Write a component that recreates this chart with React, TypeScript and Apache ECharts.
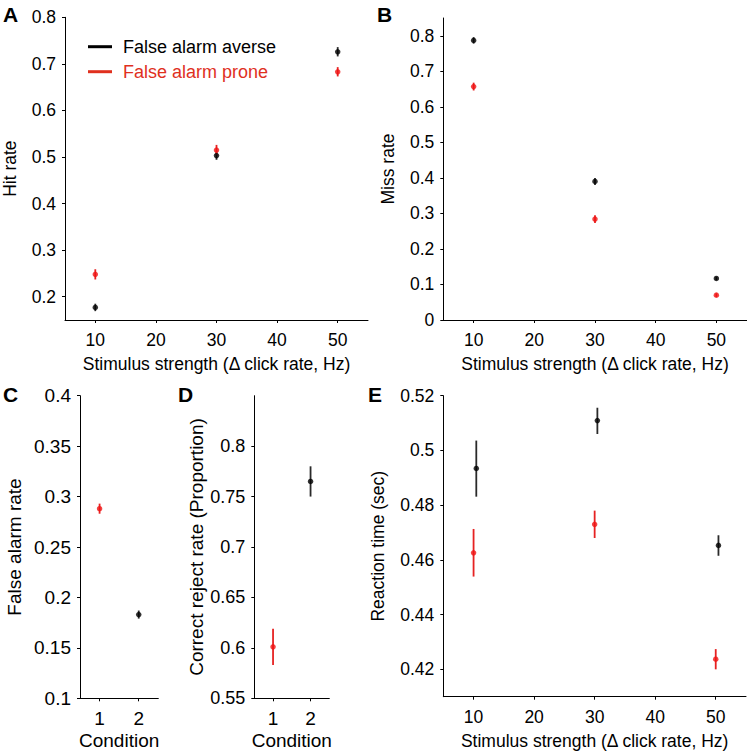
import React, { useEffect, useRef } from 'react';
import * as echarts from 'echarts';

// ---------- data ----------
const stimulus = [10, 30, 50];
const stimulusTicks = [10, 20, 30, 40, 50];
const conditionTicks = [1, 2];

// Panel A: hit rate
const hitTicks = [0.2, 0.3, 0.4, 0.5, 0.6, 0.7, 0.8];
const hitAverse = [0.177, 0.503, 0.726];
const hitAverseErr = [0.008, 0.009, 0.01];
const hitProne = [0.248, 0.515, 0.683];
const hitProneErr = [0.011, 0.011, 0.01];

// Panel B: miss rate
const missTicks = [0, 0.1, 0.2, 0.3, 0.4, 0.5, 0.6, 0.7, 0.8];
const missAverse = [0.787, 0.39, 0.117];
const missAverseErr = [0.009, 0.01, 0.005];
const missProne = [0.657, 0.284, 0.07];
const missProneErr = [0.011, 0.011, 0.005];

// Panel C: false alarm rate
const faTicks = [0.1, 0.15, 0.2, 0.25, 0.3, 0.35, 0.4];
const faCondition = [1, 2];
const faValues = [0.288, 0.183];
const faErr = [0.005, 0.004];

// Panel D: correct reject rate
const crTicks = [0.55, 0.6, 0.65, 0.7, 0.75, 0.8];
const crCondition = [1, 2];
const crValues = [0.601, 0.765];
const crErr = [0.018, 0.015];

// Panel E: reaction time
const rtTicks = [0.42, 0.44, 0.46, 0.48, 0.5, 0.52];
const rtAverseX = [10.45, 30.45, 50.45];
const rtAverse = [0.4934, 0.5109, 0.4653];
const rtAverseLow = [0.4831, 0.506, 0.4615];
const rtAverseHigh = [0.5036, 0.5156, 0.469];
const rtProneX = [10, 30, 50];
const rtProne = [0.4626, 0.473, 0.4237];
const rtProneLow = [0.4539, 0.468, 0.42];
const rtProneHigh = [0.4713, 0.478, 0.4274];

const AVERSE = 'False alarm averse';
const PRONE = 'False alarm prone';
const BLACK = '#000000';
const BLACK_BAR = '#2a2a2a';
const RED = '#f01414';
const RED_BAR = '#e62222';
const LEGEND_RED = '#e0301e';
const FONT = '"Liberation Sans", Arial, Helvetica, sans-serif';

function xAxis(gridIndex: number, min: number, max: number, ticks: number[], name: string, fs: number, margin: number, gap: number) {
  return {
    type: 'value', gridIndex, min, max, name, nameLocation: 'middle', nameGap: gap,
    nameTextStyle: { color: '#000', fontSize: fs, fontFamily: FONT },
    axisLine: { show: true, onZero: false, lineStyle: { color: '#000', width: 1 } },
    axisTick: { show: true, inside: false, length: 3, customValues: ticks, lineStyle: { color: '#000' } },
    axisLabel: { show: true, customValues: ticks, margin, color: '#000', fontSize: fs, fontFamily: FONT },
    splitLine: { show: false },
  };
}

function yAxis(gridIndex: number, min: number, max: number, ticks: number[], name: string, fs: number, nfs: number, gap: number) {
  return {
    type: 'value', gridIndex, min, max, name, nameLocation: 'middle', nameGap: gap,
    nameTextStyle: { color: '#000', fontSize: nfs, fontFamily: FONT },
    axisLine: { show: true, onZero: false, lineStyle: { color: '#000', width: 1 } },
    axisTick: { show: true, inside: false, length: 3, customValues: ticks, lineStyle: { color: '#000' } },
    axisLabel: { show: true, customValues: ticks, margin: 9, color: '#000', fontSize: fs, fontFamily: FONT },
    splitLine: { show: false },
  };
}

function points(name: string, idx: number, xs: number[], ys: number[], color: string) {
  return {
    type: 'scatter', name, xAxisIndex: idx, yAxisIndex: idx,
    data: xs.map((x, i) => [x, ys[i]]),
    symbol: 'circle', symbolSize: 5.5, itemStyle: { color }, z: 4, silent: true,
  };
}

function bars(name: string, idx: number, xs: number[], lo: number[], hi: number[], color: string) {
  return {
    type: 'custom', name, xAxisIndex: idx, yAxisIndex: idx,
    data: xs.map((x, i) => [x, lo[i], hi[i]]),
    encode: { x: 0, y: [1, 2] },
    silent: true, z: 3,
    renderItem: (_p: any, api: any) => {
      const a = api.coord([api.value(0), api.value(1)]);
      const b = api.coord([api.value(0), api.value(2)]);
      return {
        type: 'line',
        shape: { x1: a[0], y1: a[1], x2: b[0], y2: b[1] },
        style: { stroke: color, lineWidth: 1.8 },
      };
    },
  };
}

const minus = (v: number[], e: number[]) => v.map((x, i) => x - e[i]);
const plus = (v: number[], e: number[]) => v.map((x, i) => x + e[i]);

export default function App() {
  const ref = useRef<HTMLDivElement>(null);
  useEffect(() => {
    if (!ref.current) return;
    const chart = echarts.init(ref.current, undefined, { renderer: 'svg' });
    const stimName = 'Stimulus strength (\u0394 click rate, Hz)';
    const option: any = {
      animation: false,
      backgroundColor: '#ffffff',
      grid: [
        { left: 65, top: 17.3, width: 303, height: 302.7 },
        { left: 443.3, top: 18, width: 303.4, height: 302 },
        { left: 80, top: 395.7, width: 78.3, height: 302.6 },
        { left: 254.3, top: 395.7, width: 75, height: 302.6 },
        { left: 443.3, top: 395.7, width: 302.7, height: 301 },
      ],
      xAxis: [
        xAxis(0, 5, 55, stimulusTicks, stimName, 17.5, 11, 35),
        xAxis(1, 5, 55, stimulusTicks, stimName, 17.5, 11, 35),
        xAxis(2, 0.5, 2.5, conditionTicks, 'Condition', 19, 11, 33),
        xAxis(3, 0.5, 2.5, conditionTicks, 'Condition', 19, 11, 33),
        xAxis(4, 5, 55, stimulusTicks, stimName, 17.5, 11, 35),
      ],
      yAxis: [
        yAxis(0, 0.15, 0.8, hitTicks, 'Hit rate', 17.5, 17.5, 46),
        yAxis(1, 0, 0.85, missTicks, 'Miss rate', 17.5, 17.5, 46),
        yAxis(2, 0.1, 0.4, faTicks, 'False alarm rate', 19, 19, 56),
        yAxis(3, 0.55, 0.85, crTicks, 'Correct reject rate (Proportion)', 18, 19, 41.5),
        yAxis(4, 0.41, 0.52, rtTicks, 'Reaction time (sec)', 17.5, 17.5, 56),
      ],
      series: [
        bars(AVERSE, 0, stimulus, minus(hitAverse, hitAverseErr), plus(hitAverse, hitAverseErr), BLACK_BAR),
        points(AVERSE, 0, stimulus, hitAverse, BLACK),
        bars(PRONE, 0, stimulus, minus(hitProne, hitProneErr), plus(hitProne, hitProneErr), RED_BAR),
        points(PRONE, 0, stimulus, hitProne, RED),

        bars(AVERSE, 1, stimulus, minus(missAverse, missAverseErr), plus(missAverse, missAverseErr), BLACK_BAR),
        points(AVERSE, 1, stimulus, missAverse, BLACK),
        bars(PRONE, 1, stimulus, minus(missProne, missProneErr), plus(missProne, missProneErr), RED_BAR),
        points(PRONE, 1, stimulus, missProne, RED),

        bars(PRONE, 2, [faCondition[0]], [faValues[0] - faErr[0]], [faValues[0] + faErr[0]], RED_BAR),
        points(PRONE, 2, [faCondition[0]], [faValues[0]], RED),
        bars(AVERSE, 2, [faCondition[1]], [faValues[1] - faErr[1]], [faValues[1] + faErr[1]], BLACK_BAR),
        points(AVERSE, 2, [faCondition[1]], [faValues[1]], BLACK),

        bars(PRONE, 3, [crCondition[0]], [crValues[0] - crErr[0]], [crValues[0] + crErr[0]], RED_BAR),
        points(PRONE, 3, [crCondition[0]], [crValues[0]], RED),
        bars(AVERSE, 3, [crCondition[1]], [crValues[1] - crErr[1]], [crValues[1] + crErr[1]], BLACK_BAR),
        points(AVERSE, 3, [crCondition[1]], [crValues[1]], BLACK),

        bars(AVERSE, 4, rtAverseX, rtAverseLow, rtAverseHigh, BLACK_BAR),
        points(AVERSE, 4, rtAverseX, rtAverse, BLACK),
        bars(PRONE, 4, rtProneX, rtProneLow, rtProneHigh, RED_BAR),
        points(PRONE, 4, rtProneX, rtProne, RED),
      ],
      graphic: [
        { type: 'line', shape: { x1: 88, y1: 46.7, x2: 112, y2: 46.7 }, style: { stroke: '#000', lineWidth: 3 } },
        { type: 'text', x: 123, y: 46.7, style: { text: AVERSE, fill: '#000', fontSize: 18, fontFamily: FONT, verticalAlign: 'middle' } },
        { type: 'line', shape: { x1: 88, y1: 71.7, x2: 112, y2: 71.7 }, style: { stroke: LEGEND_RED, lineWidth: 3 } },
        { type: 'text', x: 123, y: 71.7, style: { text: PRONE, fill: LEGEND_RED, fontSize: 18, fontFamily: FONT, verticalAlign: 'middle' } },
        { type: 'text', x: 3, y: 4, style: { text: 'A', fill: '#000', fontSize: 21, fontWeight: 'bold', fontFamily: FONT } },
        { type: 'text', x: 377, y: 4, style: { text: 'B', fill: '#000', fontSize: 21, fontWeight: 'bold', fontFamily: FONT } },
        { type: 'text', x: 3, y: 384, style: { text: 'C', fill: '#000', fontSize: 21, fontWeight: 'bold', fontFamily: FONT } },
        { type: 'text', x: 178, y: 384, style: { text: 'D', fill: '#000', fontSize: 21, fontWeight: 'bold', fontFamily: FONT } },
        { type: 'text', x: 368, y: 384, style: { text: 'E', fill: '#000', fontSize: 21, fontWeight: 'bold', fontFamily: FONT } },
      ],
    };
    chart.setOption(option);
    return () => chart.dispose();
  }, []);
  return (
    <div
      ref={ref}
      style={{ position: 'absolute', left: 0, top: 0, width: 747, height: 753, background: '#fff' }}
    />
  );
}
